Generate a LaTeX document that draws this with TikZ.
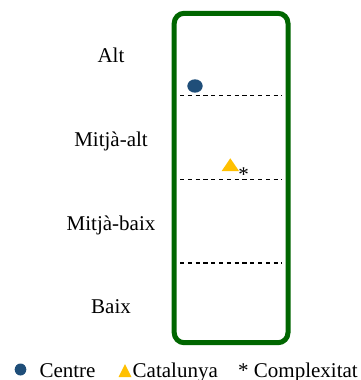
\documentclass[tikz,border=0pt]{standalone}
\usepackage{fontspec}
\setmainfont{Liberation Serif}
\definecolor{cgreen}{HTML}{006600}
\definecolor{cblue}{HTML}{1F4E79}
\definecolor{cyellow}{HTML}{FFC000}
\begin{document}
\begin{tikzpicture}[x=1pt,y=-1pt,
  lbl/.style={anchor=base,inner sep=0pt,font=\fontsize{21}{25}\selectfont},
  lgd/.style={anchor=base west,inner sep=0pt,font=\fontsize{21}{25}\selectfont},
  sep/.style={black,line width=1.1pt,dash pattern=on 4.2pt off 3.6pt},
  frame/.style={draw=cgreen,line width=5pt,rounded corners=10pt},
  bdot/.style={fill=cblue,draw=none},
  ytri/.style={fill=cyellow,draw=none}]
\useasboundingbox (0,0) rectangle (360,380);
% frame
\draw[frame] (174.2,13.3) rectangle (288,342.7);
% separators
\coordinate (s1a) at (180,95.7); \coordinate (s1b) at (282,95.7);
\coordinate (s2a) at (180,179.5); \coordinate (s2b) at (282,179.5);
\coordinate (s3a) at (180,263); \coordinate (s3b) at (282,263);
\draw[sep] (s1a) -- (s1b);
\draw[sep] (s2a) -- (s2b);
\draw[sep] (s3a) -- (s3b);
% labels
\node[lbl] (alt) at (111,62) {Alt};
\node[lbl] (malt) at (111,146) {Mitjà-alt};
\node[lbl] (mbaix) at (111,230) {Mitjà-baix};
\node[lbl] (baix) at (111,313) {Baix};
% markers
\fill[bdot] (195,86) ellipse [x radius=7.7pt, y radius=6.7pt];
\fill[ytri] (221.7,171) -- (230.3,158.3) -- (239,171) -- cycle;
\node[inner sep=0pt,font=\fontsize{21}{25}\selectfont] (ast) at (243.5,174.5) {*};
% legend
\fill[bdot] (20.5,369.5) ellipse [x radius=5.8pt, y radius=6pt];
\node[lgd] (lc) at (39.3,377.7) {Centre};
\fill[ytri] (118.5,377) -- (125,364) -- (131.5,377) -- cycle;
\node[lgd] (lcat) at (132.5,377.7) {Catalunya};
\node[lgd] (lcx) at (238,377.7) {* Complexitat};
\end{tikzpicture}
\end{document}
